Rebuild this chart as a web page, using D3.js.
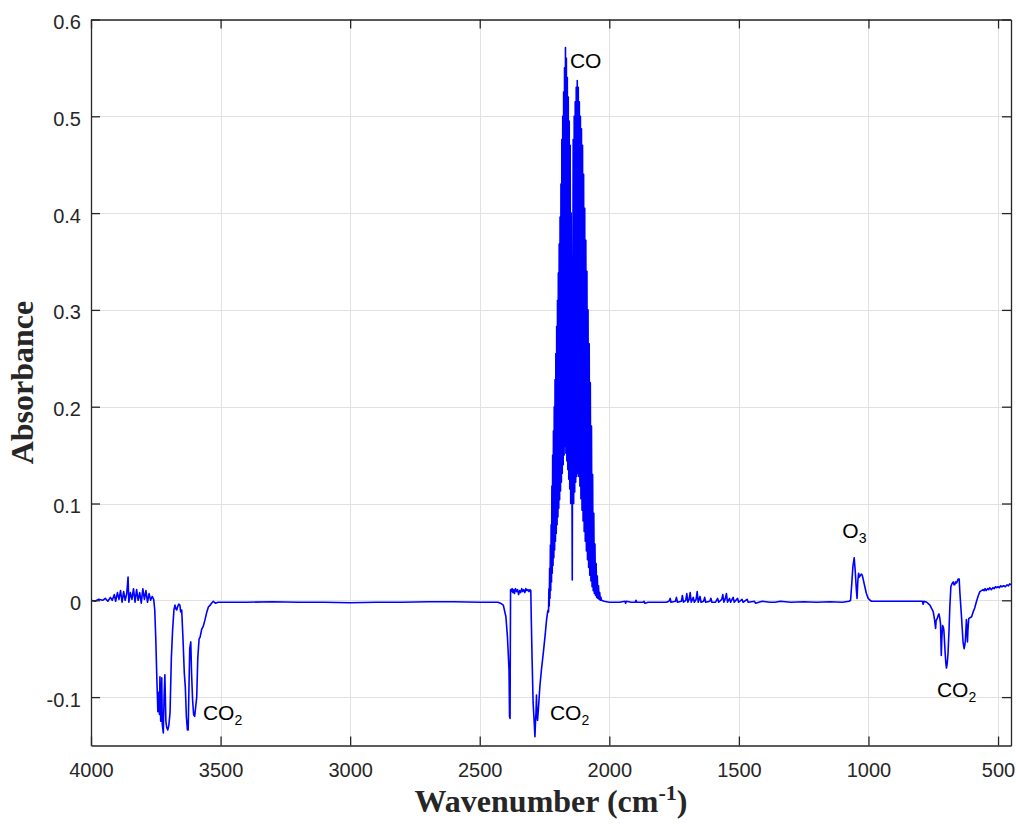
<!DOCTYPE html>
<html>
<head>
<meta charset="utf-8">
<script src="https://cdn.jsdelivr.net/npm/d3@7"></script>
<style>
  html, body { margin: 0; padding: 0; background: #fff; }
  svg { display: block; }
  .tick text { font-family: "Liberation Sans", Arial, Helvetica, sans-serif; font-size: 20px; fill: #262626; }
  .lbl { font-family: "Liberation Sans", Arial, Helvetica, sans-serif; font-size: 21px; fill: #000; }
  .title { font-family: "Liberation Serif", "Times New Roman", serif; font-weight: bold; font-size: 32px; fill: #262626; }
</style>
</head>
<body>
<svg id="chart" width="1016" height="825"></svg>
<script>
// ---------------- DATA (wavenumber cm-1, absorbance) ----------------
// 4000-3500 : noisy baseline + CO2 combination bands
const region4000to3500 = [
  [4000, 0.000], [3985, -0.001], [3970, 0.001], [3955, 0.000], [3945, 0.002], [3935, -0.001],
  [3925, 0.003], [3918, 0.000], [3910, 0.006], [3905, -0.001], [3898, 0.008], [3892, 0.001],
  [3886, 0.010], [3880, -0.002], [3874, 0.009], [3868, 0.000], [3862, 0.007], [3857, 0.024],
  [3854, -0.002], [3848, 0.008], [3842, 0.001], [3836, 0.012], [3830, -0.002], [3824, 0.011],
  [3818, 0.000], [3812, 0.008], [3806, -0.003], [3800, 0.012], [3794, 0.001], [3788, 0.010],
  [3782, -0.002], [3776, 0.007], [3770, 0.000], [3764, 0.004], [3758, 0.001], [3754, -0.010],
  [3750, -0.040], [3746, -0.080], [3742, -0.115], [3739, -0.095], [3736, -0.118], [3734, -0.079],
  [3731, -0.125], [3729, -0.120], [3727, -0.080], [3725, -0.128], [3721, -0.137], [3718, -0.100],
  [3715, -0.077], [3711, -0.125], [3708, -0.131], [3704, -0.134], [3700, -0.130], [3695, -0.116],
  [3690, -0.060], [3685, -0.030], [3680, -0.010], [3676, -0.005], [3672, -0.009], [3669, -0.010],
  [3665, -0.006], [3661, -0.004], [3657, -0.005], [3654, -0.012], [3650, -0.010], [3645, -0.040],
  [3640, -0.075], [3636, -0.090], [3632, -0.120], [3628, -0.134], [3625, -0.134], [3622, -0.090],
  [3619, -0.050], [3615, -0.043], [3612, -0.075], [3608, -0.103], [3604, -0.118], [3600, -0.120],
  [3596, -0.110], [3592, -0.100], [3588, -0.060], [3583, -0.040], [3579, -0.038], [3573, -0.030],
  [3567, -0.027], [3560, -0.020], [3553, -0.012], [3547, -0.007], [3540, -0.005], [3535, -0.003],
  [3528, -0.001], [3520, -0.003], [3510, -0.002]
];

// 3500-2420 : flat baseline
const region3500to2420 = [
  [3500, -0.002], [3400, -0.002], [3300, -0.0015], [3200, -0.002], [3100, -0.002], [3000, -0.0025],
  [2900, -0.002], [2800, -0.002], [2700, -0.0015], [2600, -0.0015], [2500, -0.002], [2430, -0.002]
];

// 2420-2238 : CO2 asymmetric stretch
const regionCO2stretch = [
  [2420, -0.003], [2409, -0.005], [2399, -0.017], [2393, -0.038], [2387, -0.072], [2385, -0.120],
  [2383, -0.122], [2382, -0.050], [2381, 0.011], [2378, 0.009], [2375, 0.012], [2372, 0.008],
  [2369, 0.011], [2366, 0.007], [2362, 0.012], [2358, 0.009], [2354, 0.011], [2350, 0.006],
  [2346, 0.010], [2342, 0.008], [2338, 0.012], [2334, 0.009], [2330, 0.011], [2326, 0.008],
  [2322, 0.012], [2318, 0.010], [2314, 0.011], [2310, 0.009], [2306, 0.011], [2303, 0.010],
  [2301, -0.020], [2298, -0.060], [2294, -0.106], [2290, -0.125], [2287, -0.141], [2284, -0.120],
  [2283, -0.117], [2281, -0.098], [2279, -0.120], [2277, -0.124], [2273, -0.110], [2268, -0.089],
  [2262, -0.072], [2255, -0.055], [2248, -0.037], [2242, -0.020], [2238, -0.012]
];

// CO fundamental: R-branch lines (peaks) and the valleys between them
const coRLineWn = [2235.9, 2233.1, 2230.3, 2227.4, 2224.5, 2221.6, 2218.6, 2215.6, 2212.5, 2209.4,
  2206.3, 2203.1, 2199.9, 2196.7, 2193.4, 2190.0, 2186.6, 2183.2, 2179.8, 2176.3, 2172.8, 2169.2,
  2165.6, 2162.0, 2158.3, 2154.6, 2150.9, 2147.1];
const coRLinePeak = [-0.010, 0.012, 0.033, 0.057, 0.078, 0.118, 0.150, 0.175, 0.200, 0.228,
  0.255, 0.283, 0.310, 0.338, 0.368, 0.396, 0.430, 0.476, 0.500, 0.525, 0.550, 0.571,
  0.560, 0.540, 0.520, 0.495, 0.470, 0.400];
const coRValleyWn = [2234.5, 2231.7, 2228.9, 2226.0, 2223.0, 2220.1, 2217.1, 2214.0, 2211.0, 2207.8,
  2204.7, 2201.5, 2198.3, 2195.0, 2191.7, 2188.3, 2184.9, 2181.5, 2178.0, 2174.5, 2171.0, 2167.4,
  2163.8, 2160.1, 2156.5, 2152.7, 2149.0];
const coRValley = [-0.012, -0.006, 0.002, 0.010, 0.019, 0.028, 0.036, 0.044, 0.052, 0.061,
  0.069, 0.078, 0.086, 0.095, 0.104, 0.113, 0.122, 0.131, 0.140, 0.150, 0.159, 0.152,
  0.144, 0.135, 0.125, 0.115, 0.100];
const coQGap = [[2143.0, 0.021]];
// CO fundamental: P-branch
const coPLineWn = [2139.4, 2135.5, 2131.6, 2127.7, 2123.7, 2119.7, 2115.6, 2111.5, 2107.4, 2103.3,
  2099.1, 2094.9, 2090.6, 2086.3, 2082.0, 2077.6, 2073.3, 2068.8, 2064.4, 2059.9, 2055.4, 2050.8,
  2046.3, 2041.7, 2037.0, 2032.4];
const coPLinePeak = [0.476, 0.500, 0.515, 0.530, 0.537, 0.530, 0.515, 0.500, 0.487, 0.470,
  0.440, 0.405, 0.372, 0.340, 0.300, 0.265, 0.225, 0.180, 0.130, 0.090, 0.058, 0.038,
  0.025, 0.015, 0.008, 0.003];
const coPValleyWn = [2137.5, 2133.5, 2129.7, 2125.7, 2121.7, 2117.7, 2113.5, 2109.5, 2105.3, 2101.2,
  2097.0, 2092.8, 2088.5, 2084.2, 2079.8, 2075.5, 2071.0, 2066.6, 2062.2, 2057.7, 2053.1, 2048.5,
  2044.0, 2039.4, 2034.7];
const coPValley = [0.100, 0.112, 0.122, 0.128, 0.131, 0.128, 0.118, 0.105, 0.093, 0.082,
  0.071, 0.061, 0.051, 0.042, 0.034, 0.026, 0.020, 0.014, 0.010, 0.007, 0.005, 0.003,
  0.002, 0.001, 0.000];

// 2030-1075 : baseline with small, sparse water noise
const region2030to1075 = [
  [2030, 0.000], [2020, -0.001], [2000, -0.002], [1960, -0.002], [1940, -0.001], [1937, -0.003],
  [1934, -0.001], [1915, -0.002], [1900, -0.002], [1897, 0.000], [1894, -0.002], [1870, -0.002],
  [1866, -0.001], [1863, -0.003], [1850, -0.002], [1810, -0.002], [1780, -0.002], [1770, -0.001],
  [1765, 0.002], [1762, -0.002], [1745, -0.001], [1741, 0.003], [1737, -0.002], [1722, -0.001],
  [1718, 0.005], [1714, -0.002], [1705, 0.000], [1701, 0.007], [1697, -0.002], [1692, 0.001],
  [1688, 0.008], [1684, -0.002], [1676, 0.003], [1672, -0.002], [1665, 0.001], [1661, 0.009],
  [1657, -0.002], [1650, 0.004], [1646, -0.002], [1636, -0.001], [1632, 0.003], [1628, -0.002],
  [1612, -0.001], [1608, 0.002], [1604, -0.002], [1590, -0.002], [1582, 0.002], [1578, -0.002],
  [1566, 0.001], [1562, 0.006], [1558, -0.002], [1552, 0.002], [1548, 0.007], [1544, -0.002],
  [1536, 0.002], [1532, -0.002], [1522, 0.003], [1518, -0.002], [1505, 0.002], [1501, -0.002],
  [1488, 0.001], [1484, -0.002], [1468, 0.001], [1464, -0.002], [1440, -0.001], [1436, -0.003],
  [1410, -0.001], [1380, -0.002], [1360, -0.002], [1340, -0.001], [1300, -0.002], [1250, -0.0015],
  [1200, -0.002], [1150, -0.0015], [1100, -0.002]
];

// 1075-450 : O3 band, CO2 bending band and tail
const region1075to450 = [
  [1075, -0.001], [1069, 0.000], [1065, 0.015], [1060, 0.035], [1055, 0.044], [1051, 0.030],
  [1047, 0.012], [1044, 0.002], [1041, 0.020], [1038, 0.028], [1035, 0.024], [1033, 0.025],
  [1028, 0.027], [1024, 0.026], [1019, 0.020], [1014, 0.014], [1008, 0.007], [1001, 0.002],
  [994, 0.000], [988, -0.001], [950, -0.001], [900, -0.001], [850, -0.001], [800, -0.001],
  [792, -0.001], [789, -0.004], [786, -0.001], [775, -0.002], [763, -0.005], [755, -0.009],
  [750, -0.012], [745, -0.020], [741, -0.029], [739, -0.021], [735, -0.019], [730, -0.015],
  [728, -0.014], [725, -0.018], [722, -0.024], [719, -0.057], [717, -0.040], [714, -0.026],
  [711, -0.028], [709, -0.031], [706, -0.045], [704, -0.055], [701, -0.066], [699, -0.070],
  [696, -0.065], [693, -0.055], [689, -0.030], [686, -0.007], [682, 0.014], [678, 0.017],
  [673, 0.019], [670, 0.016], [667, 0.016], [664, 0.019], [660, 0.018], [657, 0.020],
  [654, 0.022], [650, 0.022], [647, 0.007], [644, -0.005], [641, -0.017], [638, -0.030],
  [635, -0.043], [631, -0.050], [628, -0.046], [626, -0.041], [624, -0.030], [622, -0.020],
  [620, -0.030], [618, -0.043], [616, -0.030], [613, -0.019], [608, -0.018], [602, -0.017],
  [596, -0.012], [590, -0.008], [583, -0.001], [576, 0.005], [570, 0.009], [564, 0.010],
  [558, 0.011], [554, 0.010], [550, 0.012], [546, 0.010], [540, 0.012], [536, 0.011],
  [532, 0.013], [526, 0.011], [520, 0.013], [515, 0.012], [510, 0.014], [505, 0.013],
  [500, 0.014], [495, 0.013], [490, 0.015], [485, 0.014], [478, 0.015], [472, 0.014],
  [465, 0.016], [460, 0.015], [455, 0.017], [450, 0.016]
];

const xTicks = [4000, 3500, 3000, 2500, 2000, 1500, 1000, 500];
const yTicks = [-0.1, 0, 0.1, 0.2, 0.3, 0.4, 0.5, 0.6];
const yTickLabels = ["-0.1", "0", "0.1", "0.2", "0.3", "0.4", "0.5", "0.6"];

const annotations = [
  { text: "CO", sub: "", wn: 2152, a: 0.550 },
  { text: "CO", sub: "2", wn: 3568, a: -0.124 },
  { text: "CO", sub: "2", wn: 2229, a: -0.124 },
  { text: "O", sub: "3", wn: 1101, a: 0.064 },
  { text: "CO", sub: "2", wn: 736, a: -0.100 }
];

// ---------------- BUILD ----------------
const coPoints = [];
coRLineWn.forEach((w, i) => {
  coPoints.push([w, coRLinePeak[i]]);
  if (i < coRValleyWn.length) coPoints.push([coRValleyWn[i], coRValley[i]]);
});
coQGap.forEach(p => coPoints.push(p));
coPLineWn.forEach((w, i) => {
  coPoints.push([w, coPLinePeak[i]]);
  if (i < coPValleyWn.length) coPoints.push([coPValleyWn[i], coPValley[i]]);
});

const spectrum = [].concat(region4000to3500, region3500to2420, regionCO2stretch, coPoints,
  region2030to1075, region1075to450).sort((a, b) => b[0] - a[0]);

const L = 91, R = 1011, T = 19.5, B = 745.5;
const x = d3.scaleLinear().domain([4000, 450]).range([L, R]);
const y = d3.scaleLinear().domain([-0.15, 0.6]).range([B, T]);

const svg = d3.select("#chart");
svg.append("rect").attr("width", 1016).attr("height", 825).attr("fill", "#fff");

// grid
const grid = svg.append("g").attr("stroke", "#e1e1e1").attr("stroke-width", 1);
grid.selectAll("line.vx").data(xTicks).join("line")
  .attr("x1", d => Math.round(x(d)) + 0.5).attr("x2", d => Math.round(x(d)) + 0.5)
  .attr("y1", T).attr("y2", B);
grid.selectAll("line.hy").data(yTicks).join("line")
  .attr("y1", d => Math.round(y(d)) + 0.5).attr("y2", d => Math.round(y(d)) + 0.5)
  .attr("x1", L).attr("x2", R);

// data
svg.append("clipPath").attr("id", "clip").append("rect")
  .attr("x", L).attr("y", T).attr("width", R - L).attr("height", B - T);
svg.append("path")
  .datum(spectrum)
  .attr("clip-path", "url(#clip)")
  .attr("fill", "none")
  .attr("stroke", "#0000ff")
  .attr("stroke-width", 1.6)
  .attr("stroke-linejoin", "round")
  .attr("d", d3.line().x(d => x(d[0])).y(d => y(d[1])));

// axes
const axisColor = "#262626";
function styleAxis(g) {
  g.selectAll(".domain").attr("stroke", axisColor).attr("stroke-width", 1.3);
  g.selectAll(".tick line").attr("stroke", axisColor).attr("stroke-width", 1.3);
}
svg.append("g").attr("transform", `translate(0,${B})`)
  .call(d3.axisBottom(x).tickValues(xTicks).tickFormat(d3.format("d"))
    .tickSizeInner(-9).tickSizeOuter(0).tickPadding(17))
  .call(styleAxis)
  .call(g => g.selectAll(".tick text").attr("font-size", null).attr("font-family", null));
svg.append("g").attr("transform", `translate(0,${T})`)
  .call(d3.axisTop(x).tickValues(xTicks).tickFormat("")
    .tickSizeInner(-9).tickSizeOuter(0))
  .call(styleAxis);
svg.append("g").attr("transform", `translate(${L},0)`)
  .call(d3.axisLeft(y).tickValues(yTicks).tickFormat((d, i) => yTickLabels[i])
    .tickSizeInner(-9).tickSizeOuter(0).tickPadding(10))
  .call(styleAxis)
  .call(g => g.selectAll(".tick text").attr("dy", "0.45em").attr("font-size", null).attr("font-family", null));
svg.append("g").attr("transform", `translate(${R},0)`)
  .call(d3.axisRight(y).tickValues(yTicks).tickFormat("")
    .tickSizeInner(-9).tickSizeOuter(0))
  .call(styleAxis);

// annotations
annotations.forEach(a => {
  const t = svg.append("text").attr("class", "lbl")
    .attr("x", x(a.wn)).attr("y", y(a.a));
  t.append("tspan").text(a.text);
  if (a.sub) t.append("tspan").attr("font-size", "14px").attr("dy", "5").text(a.sub);
});

// axis titles
const xt = svg.append("text").attr("class", "title")
  .attr("x", (L + R) / 2).attr("y", 812).attr("text-anchor", "middle");
xt.append("tspan").text("Wavenumber (cm");
xt.append("tspan").attr("font-size", "22px").attr("dy", "-12").text("-1");
xt.append("tspan").attr("dy", "12").text(")");

svg.append("text").attr("class", "title")
  .attr("transform", `translate(33,${(T + B) / 2}) rotate(-90)`)
  .attr("text-anchor", "middle").text("Absorbance");
</script>
</body>
</html>
